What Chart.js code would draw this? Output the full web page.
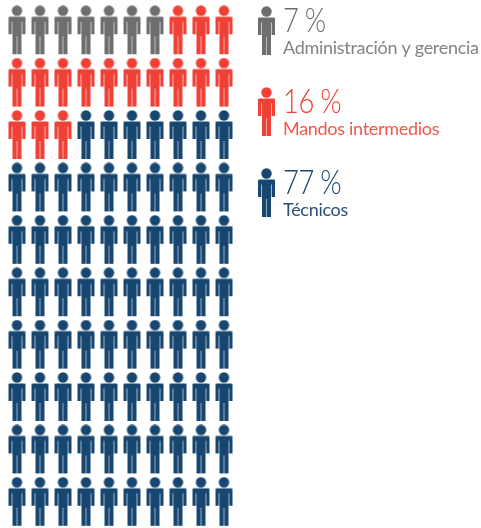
<!DOCTYPE html>
<html>
<head>
<meta charset="utf-8">
<style>
html, body { margin: 0; padding: 0; background: #fff; }
canvas { display: block; }
</style>
<script src="https://cdn.jsdelivr.net/npm/chart.js@4"></script>
</head>
<body>
<canvas id="peopleChart" width="481" height="528"></canvas>
<script>
const categories = ['Administración y gerencia', 'Mandos intermedios', 'Técnicos'];
const percentages = [7, 16, 77];
const iconColors = ['#6d6e70', '#ef4136', '#174670'];
const labelColors = ['#808285', '#f2564c', '#2a5076'];
const legendTops = [6, 87, 168];
const columns = 10;

// one person, drawn once per colour and used as the point style
function personIcon(color) {
    const c = document.createElement('canvas');
    c.width = 19;
    c.height = 50;
    const g = c.getContext('2d');
    g.filter = 'blur(0.35px)';
    g.fillStyle = color;
    g.beginPath();
    g.arc(9.5, 5.5, 5.2, 0, Math.PI * 2);
    g.fill();
    g.beginPath();
    g.roundRect(1, 11.5, 17, 5, 1);
    g.fill();
    g.fillRect(1, 14, 3, 15);
    g.fillRect(15, 14, 3, 15);
    g.fillRect(5, 14, 9, 17);
    g.fillRect(5, 30, 4.1, 19);
    g.fillRect(9.9, 30, 4.1, 19);
    g.globalAlpha = 0.4;
    g.fillRect(4, 16, 1, 13);
    g.fillRect(14, 16, 1, 13);
    g.fillRect(9.1, 31, 0.8, 18);
    return c;
}

const icons = iconColors.map(personIcon);

let cell = 0;
const datasets = percentages.map((count, i) => {
    const points = [];
    for (let n = 0; n < count; n++, cell++) {
        points.push({ x: cell % columns, y: Math.floor(cell / columns) });
    }
    return { label: categories[i], data: points, pointStyle: icons[i], pointRadius: 10 };
});

const sideLegend = {
    id: 'sideLegend',
    afterDraw(chart) {
        const ctx = chart.ctx;
        ctx.save();
        ctx.textBaseline = 'alphabetic';
        categories.forEach((name, i) => {
            const top = legendTops[i];
            ctx.drawImage(icons[i], 257, top);
            ctx.fillStyle = iconColors[i];
            ctx.font = '300 33px Lato';
            ctx.letterSpacing = '-0.5px';
            ctx.wordSpacing = '-1px';
            // the original face is narrower than Lato
            ctx.save();
            ctx.translate(283, top + 26);
            ctx.scale(0.83, 1);
            ctx.fillText(percentages[i] + ' %', 0, 0);
            ctx.restore();
            ctx.fillStyle = labelColors[i];
            ctx.font = '400 18px Lato';
            ctx.letterSpacing = '-0.3px';
            ctx.wordSpacing = '0px';
            ctx.fillText(name, 283, top + 48);
        });
        ctx.restore();
    }
};

new Chart(document.getElementById('peopleChart'), {
    type: 'scatter',
    data: { datasets },
    options: {
        responsive: false,
        animation: false,
        layout: { autoPadding: false, padding: { left: 5.5, right: 245.5, top: 4, bottom: 0 } },
        scales: {
            x: { display: false, min: -0.5, max: 9.5 },
            y: { display: false, min: -0.5, max: 9.5, reverse: true }
        },
        plugins: { legend: { display: false }, tooltip: { enabled: false } }
    },
    plugins: [sideLegend]
});
</script>
</body>
</html>
